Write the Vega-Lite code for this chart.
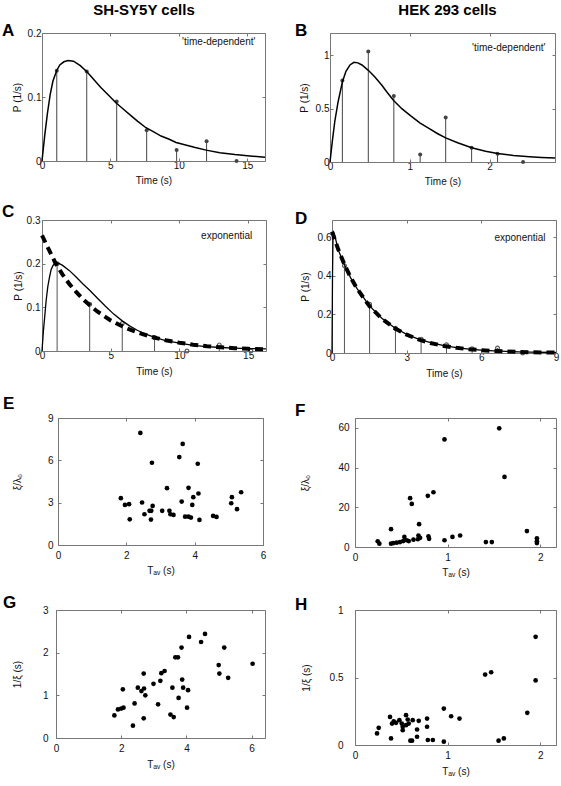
{
  "$schema": "https://vega.github.io/schema/vega-lite/v6.json",
  "padding": {"left": 2, "top": 2, "right": 2, "bottom": 2},
  "columns": 2,
  "align": {"row": "each", "column": "none"},
  "spacing": {"row": 17, "column": 21},
  "concat": [
    {
      "title": {"text": "SH-SY5Y cells", "fontSize": 15, "fontWeight": "bold", "font": "Liberation Sans", "anchor": "middle", "dx": 9, "offset": 4},
      "vconcat": [
        {
          "width": 223, "height": 128,
          "title": {"text": "A", "anchor": "start", "frame": "group", "fontSize": 17, "fontWeight": "bold", "font": "Liberation Sans", "offset": 0, "dx": -40, "dy": 25, "baseline": "alphabetic"},
          "resolve": {"axis": {"x": "independent", "y": "independent"}},
          "layer": [
            {
              "layer": [
                {
                  "data": {"values": [{"t":1.08,"p":0.141},{"t":3.27,"p":0.140},{"t":5.46,"p":0.093},{"t":7.65,"p":0.048},{"t":9.84,"p":0.017},{"t":12.03,"p":0.031},{"t":14.22,"p":0.0}]},
                  "mark": {"type": "rule", "color": "#444", "strokeWidth": 1},
                  "encoding": {
                    "x": {"field": "t", "type": "quantitative", "scale": {"domain": [0, 16.3], "nice": false, "zero": false}, "axis": {"title": "Time (s)", "values": [0,5,10,15], "labelPadding": 2, "titlePadding": 5}},
                    "y": {"field": "p", "type": "quantitative", "scale": {"domain": [0, 0.2], "nice": false}, "axis": {"title": "P (1/s)", "values": [0,0.1,0.2], "format": "~g", "labelPadding": 4, "titlePadding": 5}},
                    "y2": {"datum": 0}
                  }
                },
                {
                  "data": {"values": [{"t":1.08,"p":0.141},{"t":3.27,"p":0.140},{"t":5.46,"p":0.093},{"t":7.65,"p":0.048},{"t":9.84,"p":0.017},{"t":12.03,"p":0.031},{"t":14.22,"p":0.0}]},
                  "mark": {"type": "point", "filled": true, "color": "#444", "size": 16, "opacity": 1},
                  "encoding": {"x": {"field": "t", "type": "quantitative"}, "y": {"field": "p", "type": "quantitative"}}
                },
                {
                  "data": {"values": [{"t":0,"p":0},{"t":0.1,"p":0.02},{"t":0.2,"p":0.04},{"t":0.4,"p":0.075},{"t":0.6,"p":0.104},{"t":0.8,"p":0.125},{"t":1.07,"p":0.141},{"t":1.3,"p":0.15},{"t":1.6,"p":0.155},{"t":1.9,"p":0.157},{"t":2.3,"p":0.156},{"t":2.8,"p":0.149},{"t":3.3,"p":0.139},{"t":3.8,"p":0.127},{"t":4.3,"p":0.115},{"t":4.85,"p":0.103},{"t":5.4,"p":0.091},{"t":6.0,"p":0.08},{"t":6.5,"p":0.071},{"t":7.0,"p":0.062},{"t":7.6,"p":0.052},{"t":8.2,"p":0.045},{"t":8.7,"p":0.039},{"t":9.3,"p":0.034},{"t":9.8,"p":0.029},{"t":10.5,"p":0.025},{"t":11.2,"p":0.021},{"t":12,"p":0.017},{"t":13,"p":0.013},{"t":14.1,"p":0.010},{"t":15.2,"p":0.008},{"t":16.3,"p":0.006}]},
                  "mark": {"type": "line", "color": "#000", "strokeWidth": 1.5},
                  "encoding": {"x": {"field": "t", "type": "quantitative"}, "y": {"field": "p", "type": "quantitative"}}
                },
                {
                  "data": {"values": [{"t": 15.6, "p": 0.186, "label": "'time-dependent'"}]},
                  "mark": {"type": "text", "align": "right", "baseline": "middle", "fontSize": 10, "font": "Liberation Sans", "color": "#111"},
                  "encoding": {"x": {"field": "t", "type": "quantitative"}, "y": {"field": "p", "type": "quantitative"}, "text": {"field": "label"}}
                }
              ]
            },
            {
              "data": {"values": [{"t": 0, "p": 0}]},
              "mark": {"type": "point", "opacity": 0},
              "encoding": {
                "x": {"field": "t", "type": "quantitative", "axis": {"orient": "top", "labels": false, "title": null, "values": [0,5,10,15]}},
                "y": {"field": "p", "type": "quantitative", "axis": {"orient": "right", "labels": false, "title": null, "values": [0,0.1,0.2]}}
              }
            }
          ]
        }
      ]
    },
    {
      "title": {"text": "HEK 293 cells", "fontSize": 15, "fontWeight": "bold", "font": "Liberation Sans", "anchor": "middle", "dx": 21, "offset": 4},
      "vconcat": [
        {
          "width": 225, "height": 129,
          "title": {"text": "B", "anchor": "start", "frame": "group", "fontSize": 17, "fontWeight": "bold", "font": "Liberation Sans", "offset": 0, "dx": -35, "dy": 20, "baseline": "alphabetic"},
          "resolve": {"axis": {"x": "independent", "y": "independent"}},
          "layer": [
            {
              "layer": [
                {
                  "data": {"values": [{"t":0.155,"p":0.765},{"t":0.48,"p":1.037},{"t":0.80,"p":0.62},{"t":1.13,"p":0.071},{"t":1.45,"p":0.418},{"t":1.775,"p":0.133},{"t":2.10,"p":0.077},{"t":2.42,"p":0.0}]},
                  "mark": {"type": "rule", "color": "#444", "strokeWidth": 1},
                  "encoding": {
                    "x": {"field": "t", "type": "quantitative", "scale": {"domain": [0, 2.82], "nice": false, "zero": false}, "axis": {"title": "Time (s)", "values": [0,1,2], "format": "~g", "labelPadding": 2, "titlePadding": 5}},
                    "y": {"field": "p", "type": "quantitative", "scale": {"domain": [0, 1.21], "nice": false}, "axis": {"title": "P (1/s)", "values": [0,0.5,1], "format": "~g", "labelPadding": 4, "titlePadding": 6}},
                    "y2": {"datum": 0}
                  }
                },
                {
                  "data": {"values": [{"t":0.155,"p":0.765},{"t":0.48,"p":1.037},{"t":0.80,"p":0.62},{"t":1.13,"p":0.071},{"t":1.45,"p":0.418},{"t":1.775,"p":0.133},{"t":2.10,"p":0.077},{"t":2.42,"p":0.0}]},
                  "mark": {"type": "point", "filled": true, "color": "#444", "size": 16, "opacity": 1},
                  "encoding": {"x": {"field": "t", "type": "quantitative"}, "y": {"field": "p", "type": "quantitative"}}
                },
                {
                  "data": {"values": [{"t":0,"p":0},{"t":0.03,"p":0.2},{"t":0.06,"p":0.38},{"t":0.1,"p":0.56},{"t":0.155,"p":0.75},{"t":0.2,"p":0.85},{"t":0.25,"p":0.91},{"t":0.3,"p":0.935},{"t":0.35,"p":0.93},{"t":0.4,"p":0.91},{"t":0.48,"p":0.86},{"t":0.56,"p":0.8},{"t":0.65,"p":0.72},{"t":0.72,"p":0.65},{"t":0.8,"p":0.575},{"t":0.9,"p":0.5},{"t":1.0,"p":0.44},{"t":1.13,"p":0.365},{"t":1.25,"p":0.31},{"t":1.35,"p":0.265},{"t":1.45,"p":0.226},{"t":1.6,"p":0.18},{"t":1.775,"p":0.133},{"t":1.95,"p":0.1},{"t":2.1,"p":0.08},{"t":2.3,"p":0.062},{"t":2.5,"p":0.05},{"t":2.65,"p":0.043},{"t":2.82,"p":0.037}]},
                  "mark": {"type": "line", "color": "#000", "strokeWidth": 1.5},
                  "encoding": {"x": {"field": "t", "type": "quantitative"}, "y": {"field": "p", "type": "quantitative"}}
                },
                {
                  "data": {"values": [{"t": 2.70, "p": 1.07, "label": "'time-dependent'"}]},
                  "mark": {"type": "text", "align": "right", "baseline": "middle", "fontSize": 10, "font": "Liberation Sans", "color": "#111"},
                  "encoding": {"x": {"field": "t", "type": "quantitative"}, "y": {"field": "p", "type": "quantitative"}, "text": {"field": "label"}}
                }
              ]
            },
            {
              "data": {"values": [{"t": 0, "p": 0}]},
              "mark": {"type": "point", "opacity": 0},
              "encoding": {
                "x": {"field": "t", "type": "quantitative", "axis": {"orient": "top", "labels": false, "title": null, "values": [0,1,2]}},
                "y": {"field": "p", "type": "quantitative", "axis": {"orient": "right", "labels": false, "title": null, "values": [0,0.5,1]}}
              }
            }
          ]
        }
      ]
    },
    {
      "width": 224, "height": 131,
      "title": {"text": "C", "anchor": "start", "frame": "group", "fontSize": 17, "fontWeight": "bold", "font": "Liberation Sans", "offset": 0, "dx": -40, "dy": 19, "baseline": "alphabetic"},
      "resolve": {"axis": {"x": "independent", "y": "independent"}},
      "layer": [
        {
          "layer": [
            {
              "data": {"values": [{"t":1.1,"p":0.2},{"t":3.47,"p":0.107},{"t":5.84,"p":0.063},{"t":8.19,"p":0.031},{"t":10.55,"p":0.0},{"t":12.9,"p":0.014},{"t":15.2,"p":0.0}]},
              "mark": {"type": "rule", "color": "#555", "strokeWidth": 1},
              "encoding": {
                "x": {"field": "t", "type": "quantitative", "scale": {"domain": [0, 16.3], "nice": false, "zero": false}, "axis": {"title": "Time (s)", "values": [0,5,10,15], "labelPadding": 2, "titlePadding": 6}},
                "y": {"field": "p", "type": "quantitative", "scale": {"domain": [0, 0.3], "nice": false}, "axis": {"title": "P (1/s)", "values": [0,0.1,0.2,0.3], "format": "~g", "labelPadding": 5, "titlePadding": 3}},
                "y2": {"datum": 0}
              }
            },
            {
              "data": {"values": [{"t":1.1,"p":0.2},{"t":3.47,"p":0.107},{"t":5.84,"p":0.063},{"t":8.19,"p":0.031},{"t":10.55,"p":0.0},{"t":12.9,"p":0.014},{"t":15.2,"p":0.0}]},
              "mark": {"type": "point", "filled": false, "color": "#555", "size": 14, "strokeWidth": 1.2, "opacity": 1},
              "encoding": {"x": {"field": "t", "type": "quantitative"}, "y": {"field": "p", "type": "quantitative"}}
            },
            {
              "data": {"values": [{"t":0,"p":0.265},{"t":0.5,"p":0.232},{"t":1,"p":0.2},{"t":1.5,"p":0.175},{"t":2,"p":0.153},{"t":2.5,"p":0.135},{"t":3,"p":0.118},{"t":3.5,"p":0.104},{"t":4,"p":0.091},{"t":5,"p":0.07},{"t":6,"p":0.054},{"t":7,"p":0.042},{"t":8,"p":0.032},{"t":9,"p":0.0245},{"t":10,"p":0.019},{"t":11,"p":0.0144},{"t":12,"p":0.011},{"t":13,"p":0.0085},{"t":14,"p":0.0065},{"t":15,"p":0.005},{"t":16.3,"p":0.0035}]},
              "mark": {"type": "line", "color": "#000", "strokeWidth": 4, "strokeDash": [8, 5], "strokeCap": "butt"},
              "encoding": {"x": {"field": "t", "type": "quantitative"}, "y": {"field": "p", "type": "quantitative"}}
            },
            {
              "data": {"values": [{"t":0,"p":0},{"t":0.1,"p":0.045},{"t":0.2,"p":0.08},{"t":0.3,"p":0.115},{"t":0.42,"p":0.147},{"t":0.55,"p":0.17},{"t":0.66,"p":0.186},{"t":0.8,"p":0.196},{"t":1.0,"p":0.202},{"t":1.2,"p":0.201},{"t":1.5,"p":0.196},{"t":2.0,"p":0.184},{"t":2.5,"p":0.169},{"t":3.0,"p":0.153},{"t":3.47,"p":0.139},{"t":4.0,"p":0.122},{"t":4.6,"p":0.103},{"t":5.2,"p":0.085},{"t":5.84,"p":0.069},{"t":6.4,"p":0.057},{"t":6.9,"p":0.048},{"t":7.5,"p":0.039},{"t":8.2,"p":0.031},{"t":9,"p":0.024},{"t":10,"p":0.018},{"t":11,"p":0.013},{"t":12,"p":0.01},{"t":13,"p":0.008},{"t":14,"p":0.0065},{"t":15,"p":0.0055},{"t":16.3,"p":0.005}]},
              "mark": {"type": "line", "color": "#000", "strokeWidth": 1.3},
              "encoding": {"x": {"field": "t", "type": "quantitative"}, "y": {"field": "p", "type": "quantitative"}}
            },
            {
              "data": {"values": [{"t": 15.3, "p": 0.264, "label": "exponential"}]},
              "mark": {"type": "text", "align": "right", "baseline": "middle", "fontSize": 10, "font": "Liberation Sans", "color": "#111"},
              "encoding": {"x": {"field": "t", "type": "quantitative"}, "y": {"field": "p", "type": "quantitative"}, "text": {"field": "label"}}
            }
          ]
        },
        {
          "data": {"values": [{"t": 0, "p": 0}]},
          "mark": {"type": "point", "opacity": 0},
          "encoding": {
            "x": {"field": "t", "type": "quantitative", "axis": {"orient": "top", "labels": false, "title": null, "values": [0,5,10,15]}},
            "y": {"field": "p", "type": "quantitative", "axis": {"orient": "right", "labels": false, "title": null, "values": [0,0.1,0.2,0.3]}}
          }
        }
      ]
    },
    {
      "width": 224, "height": 133,
      "title": {"text": "D", "anchor": "start", "frame": "group", "fontSize": 17, "fontWeight": "bold", "font": "Liberation Sans", "offset": 0, "dx": -37, "dy": 21, "baseline": "alphabetic"},
      "resolve": {"axis": {"x": "independent", "y": "independent"}},
      "layer": [
        {
          "layer": [
            {
              "data": {"values": [{"t":0.5,"p":0.453},{"t":1.51,"p":0.253},{"t":2.55,"p":0.128},{"t":3.58,"p":0.072},{"t":4.6,"p":0.043},{"t":5.63,"p":0.022},{"t":6.65,"p":0.026},{"t":7.66,"p":0.0}]},
              "mark": {"type": "rule", "color": "#555", "strokeWidth": 1},
              "encoding": {
                "x": {"field": "t", "type": "quantitative", "scale": {"domain": [0, 9], "nice": false, "zero": false}, "axis": {"title": "Time (s)", "values": [0,3,6,9], "labelPadding": 2, "titlePadding": 6}},
                "y": {"field": "p", "type": "quantitative", "scale": {"domain": [0, 0.69], "nice": false}, "axis": {"title": "P (1/s)", "values": [0,0.2,0.4,0.6], "format": "~g", "labelPadding": 4, "titlePadding": 7}},
                "y2": {"datum": 0}
              }
            },
            {
              "data": {"values": [{"t":0.5,"p":0.453},{"t":1.51,"p":0.253},{"t":2.55,"p":0.128},{"t":3.58,"p":0.072},{"t":4.6,"p":0.043},{"t":5.63,"p":0.022},{"t":6.65,"p":0.026},{"t":7.66,"p":0.0}]},
              "mark": {"type": "point", "filled": false, "color": "#555", "size": 14, "strokeWidth": 1.2, "opacity": 1},
              "encoding": {"x": {"field": "t", "type": "quantitative"}, "y": {"field": "p", "type": "quantitative"}}
            },
            {
              "data": {"values": [{"t":0,"p":0.63},{"t":0.25,"p":0.538},{"t":0.5,"p":0.459},{"t":0.75,"p":0.392},{"t":1,"p":0.335},{"t":1.5,"p":0.244},{"t":2,"p":0.178},{"t":2.5,"p":0.13},{"t":3,"p":0.095},{"t":3.5,"p":0.069},{"t":4,"p":0.0504},{"t":4.5,"p":0.0367},{"t":5,"p":0.0268},{"t":5.5,"p":0.0196},{"t":6,"p":0.0143},{"t":6.5,"p":0.0104},{"t":7,"p":0.0076},{"t":7.5,"p":0.0055},{"t":8,"p":0.004},{"t":8.5,"p":0.0029},{"t":9,"p":0.0021}]},
              "mark": {"type": "line", "color": "#000", "strokeWidth": 4, "strokeDash": [8, 5], "strokeCap": "butt"},
              "encoding": {"x": {"field": "t", "type": "quantitative"}, "y": {"field": "p", "type": "quantitative"}}
            },
            {
              "data": {"values": [{"t":0,"p":0},{"t":0.02,"p":0.4},{"t":0.04,"p":0.6},{"t":0.07,"p":0.625},{"t":0.1,"p":0.615},{"t":0.25,"p":0.535},{"t":0.5,"p":0.458},{"t":0.75,"p":0.39},{"t":1,"p":0.335},{"t":1.5,"p":0.246},{"t":2,"p":0.18},{"t":2.5,"p":0.132},{"t":3,"p":0.097},{"t":3.5,"p":0.071},{"t":4,"p":0.052},{"t":4.5,"p":0.038},{"t":5,"p":0.028},{"t":5.5,"p":0.02},{"t":6,"p":0.015},{"t":6.5,"p":0.011},{"t":7,"p":0.008},{"t":7.5,"p":0.006},{"t":8,"p":0.0045},{"t":9,"p":0.0025}]},
              "mark": {"type": "line", "color": "#000", "strokeWidth": 1.3},
              "encoding": {"x": {"field": "t", "type": "quantitative"}, "y": {"field": "p", "type": "quantitative"}}
            },
            {
              "data": {"values": [{"t": 8.58, "p": 0.595, "label": "exponential"}]},
              "mark": {"type": "text", "align": "right", "baseline": "middle", "fontSize": 10, "font": "Liberation Sans", "color": "#111"},
              "encoding": {"x": {"field": "t", "type": "quantitative"}, "y": {"field": "p", "type": "quantitative"}, "text": {"field": "label"}}
            }
          ]
        },
        {
          "data": {"values": [{"t": 0, "p": 0}]},
          "mark": {"type": "point", "opacity": 0},
          "encoding": {
            "x": {"field": "t", "type": "quantitative", "axis": {"orient": "top", "labels": false, "title": null, "values": [0,3,6,9]}},
            "y": {"field": "p", "type": "quantitative", "axis": {"orient": "right", "labels": false, "title": null, "values": [0,0.2,0.4,0.6]}}
          }
        }
      ]
    },
    {
      "width": 221, "height": 127,
      "title": {"text": "E", "anchor": "start", "frame": "group", "fontSize": 17, "fontWeight": "bold", "font": "Liberation Sans", "offset": 0, "dx": -39, "dy": 13, "baseline": "alphabetic"},
      "resolve": {"axis": {"x": "independent", "y": "independent"}},
      "layer": [
        {
          "data": {"values": [{"t":1.84,"v":3.32},{"t":1.96,"v":2.84},{"t":2.08,"v":2.89},{"t":2.10,"v":1.82},{"t":2.41,"v":7.94},{"t":2.46,"v":3.01},{"t":2.53,"v":2.18},{"t":2.68,"v":2.42},{"t":2.73,"v":2.42},{"t":2.72,"v":1.80},{"t":2.75,"v":5.83},{"t":2.77,"v":2.77},{"t":3.05,"v":2.42},{"t":3.19,"v":4.03},{"t":3.26,"v":2.42},{"t":3.29,"v":2.18},{"t":3.38,"v":2.13},{"t":3.55,"v":6.23},{"t":3.62,"v":3.08},{"t":3.65,"v":7.16},{"t":3.72,"v":2.01},{"t":3.82,"v":2.01},{"t":3.82,"v":4.05},{"t":3.89,"v":1.94},{"t":3.93,"v":2.84},{"t":3.96,"v":3.39},{"t":4.09,"v":5.76},{"t":4.11,"v":3.65},{"t":4.14,"v":1.78},{"t":4.54,"v":2.06},{"t":4.64,"v":1.99},{"t":5.07,"v":2.96},{"t":5.09,"v":3.39},{"t":5.24,"v":2.54},{"t":5.36,"v":3.74}]},
          "mark": {"type": "point", "filled": true, "color": "#000", "size": 22, "opacity": 1},
          "encoding": {
            "x": {"field": "t", "type": "quantitative", "scale": {"domain": [0, 6], "nice": false, "range": [16, 221]}, "axis": {"title": "Tₐᵥ (s)", "values": [0,2,4,6], "labelPadding": 8, "titlePadding": 5}},
            "y": {"field": "v", "type": "quantitative", "scale": {"domain": [0, 9], "nice": false}, "axis": {"title": "ξ/λ₀", "values": [0,3,6,9], "labelPadding": 8, "titlePadding": 25, "offset": -16}}
          }
        },
        {
          "data": {"values": [{"t": 0, "v": 0}]},
          "mark": {"type": "point", "opacity": 0},
          "encoding": {
            "x": {"field": "t", "type": "quantitative", "axis": {"orient": "top", "labels": false, "title": null, "values": [0,2,4,6]}},
            "y": {"field": "v", "type": "quantitative", "axis": {"orient": "right", "labels": false, "title": null, "values": [0,3,6,9]}}
          }
        }
      ]
    },
    {
      "width": 201, "height": 129,
      "title": {"text": "F", "anchor": "start", "frame": "group", "fontSize": 17, "fontWeight": "bold", "font": "Liberation Sans", "offset": 0, "dx": -60, "dy": 15, "baseline": "alphabetic"},
      "resolve": {"axis": {"x": "independent", "y": "independent"}},
      "layer": [
        {
          "data": {"values": [{"t":0.245,"v":2.9},{"t":0.263,"v":1.7},{"t":0.389,"v":9.0},{"t":0.389,"v":1.7},{"t":0.414,"v":2.0},{"t":0.45,"v":2.2},{"t":0.486,"v":2.5},{"t":0.52,"v":3.0},{"t":0.533,"v":5.1},{"t":0.558,"v":3.4},{"t":0.595,"v":24.6},{"t":0.613,"v":21.7},{"t":0.631,"v":3.7},{"t":0.58,"v":3.0},{"t":0.678,"v":3.9},{"t":0.685,"v":5.8},{"t":0.692,"v":11.5},{"t":0.703,"v":4.6},{"t":0.786,"v":25.8},{"t":0.793,"v":5.4},{"t":0.8,"v":4.1},{"t":0.847,"v":27.6},{"t":0.966,"v":54.2},{"t":0.966,"v":3.4},{"t":1.052,"v":5.1},{"t":1.135,"v":5.8},{"t":1.413,"v":2.5},{"t":1.477,"v":2.5},{"t":1.557,"v":59.8},{"t":1.614,"v":35.3},{"t":1.856,"v":8.0},{"t":1.964,"v":4.4},{"t":1.964,"v":2.9},{"t":1.964,"v":2.0}]},
          "mark": {"type": "point", "filled": true, "color": "#000", "size": 22, "opacity": 1},
          "encoding": {
            "x": {"field": "t", "type": "quantitative", "scale": {"domain": [0, 2.17], "nice": false}, "axis": {"title": "Tₐᵥ (s)", "values": [0,1,2], "labelPadding": 8, "titlePadding": 5}},
            "y": {"field": "v", "type": "quantitative", "scale": {"domain": [0, 65], "nice": false}, "axis": {"title": "ξ/λ₀", "values": [0,20,40,60], "labelPadding": 9, "titlePadding": 27}}
          }
        },
        {
          "data": {"values": [{"t": 0, "v": 0}]},
          "mark": {"type": "point", "opacity": 0},
          "encoding": {
            "x": {"field": "t", "type": "quantitative", "axis": {"orient": "top", "labels": false, "title": null, "values": [0,1,2]}},
            "y": {"field": "v", "type": "quantitative", "axis": {"orient": "right", "labels": false, "title": null, "values": [0,20,40,60]}}
          }
        }
      ]
    },
    {
      "width": 223, "height": 128,
      "title": {"text": "G", "anchor": "start", "frame": "group", "fontSize": 17, "fontWeight": "bold", "font": "Liberation Sans", "offset": 0, "dx": -39, "dy": 20, "baseline": "alphabetic"},
      "resolve": {"axis": {"x": "independent", "y": "independent"}},
      "layer": [
        {
          "data": {"values": [{"t":1.79,"v":0.53},{"t":1.90,"v":0.67},{"t":2.0,"v":0.69},{"t":2.07,"v":0.71},{"t":2.05,"v":1.14},{"t":2.36,"v":0.29},{"t":2.41,"v":0.81},{"t":2.51,"v":1.18},{"t":2.62,"v":1.10},{"t":2.69,"v":1.51},{"t":2.70,"v":1.16},{"t":2.69,"v":0.46},{"t":2.74,"v":1.0},{"t":2.99,"v":1.27},{"t":3.13,"v":0.79},{"t":3.2,"v":1.34},{"t":3.23,"v":1.52},{"t":3.33,"v":1.57},{"t":3.51,"v":0.55},{"t":3.57,"v":1.18},{"t":3.61,"v":0.49},{"t":3.66,"v":1.89},{"t":3.74,"v":1.89},{"t":3.76,"v":0.94},{"t":3.85,"v":2.12},{"t":3.87,"v":1.37},{"t":3.9,"v":1.18},{"t":4.02,"v":0.71},{"t":4.05,"v":1.12},{"t":4.08,"v":2.37},{"t":4.45,"v":2.25},{"t":4.57,"v":2.44},{"t":4.99,"v":1.71},{"t":5.01,"v":1.51},{"t":5.16,"v":2.12},{"t":5.28,"v":1.41},{"t":6.03,"v":1.74}]},
          "mark": {"type": "point", "filled": true, "color": "#000", "size": 22, "opacity": 1},
          "encoding": {
            "x": {"field": "t", "type": "quantitative", "scale": {"domain": [0, 6.41], "nice": false, "range": [14, 223]}, "axis": {"title": "Tₐᵥ (s)", "values": [0,2,4,6], "labelPadding": 8, "titlePadding": 6}},
            "y": {"field": "v", "type": "quantitative", "scale": {"domain": [0, 3], "nice": false}, "axis": {"title": "1/ξ (s)", "values": [0,1,2,3], "labelPadding": 11, "titlePadding": 20, "offset": -14}}
          }
        },
        {
          "data": {"values": [{"t": 0, "v": 0}]},
          "mark": {"type": "point", "opacity": 0},
          "encoding": {
            "x": {"field": "t", "type": "quantitative", "axis": {"orient": "top", "labels": false, "title": null, "values": [0,2,4,6]}},
            "y": {"field": "v", "type": "quantitative", "axis": {"orient": "right", "labels": false, "title": null, "values": [0,1,2,3]}}
          }
        }
      ]
    },
    {
      "width": 201, "height": 135,
      "title": {"text": "H", "anchor": "start", "frame": "group", "fontSize": 17, "fontWeight": "bold", "font": "Liberation Sans", "offset": 0, "dx": -60, "dy": 22, "baseline": "alphabetic"},
      "resolve": {"axis": {"x": "independent", "y": "independent"}},
      "layer": [
        {
          "data": {"values": [{"t":0.238,"v":0.086},{"t":0.256,"v":0.127},{"t":0.378,"v":0.208},{"t":0.389,"v":0.049},{"t":0.4,"v":0.159},{"t":0.418,"v":0.176},{"t":0.443,"v":0.164},{"t":0.479,"v":0.184},{"t":0.505,"v":0.159},{"t":0.515,"v":0.135},{"t":0.515,"v":0.11},{"t":0.551,"v":0.221},{"t":0.551,"v":0.147},{"t":0.569,"v":0.189},{"t":0.58,"v":0.159},{"t":0.598,"v":0.032},{"t":0.616,"v":0.032},{"t":0.623,"v":0.184},{"t":0.67,"v":0.115},{"t":0.67,"v":0.061},{"t":0.688,"v":0.179},{"t":0.778,"v":0.196},{"t":0.778,"v":0.135},{"t":0.786,"v":0.037},{"t":0.84,"v":0.037},{"t":0.959,"v":0.27},{"t":0.959,"v":0.025},{"t":1.038,"v":0.213},{"t":1.128,"v":0.196},{"t":1.405,"v":0.522},{"t":1.47,"v":0.539},{"t":1.55,"v":0.032},{"t":1.607,"v":0.049},{"t":1.86,"v":0.238},{"t":1.95,"v":0.801},{"t":1.95,"v":0.478}]},
          "mark": {"type": "point", "filled": true, "color": "#000", "size": 22, "opacity": 1},
          "encoding": {
            "x": {"field": "t", "type": "quantitative", "scale": {"domain": [0, 2.17], "nice": false}, "axis": {"title": "Tₐᵥ (s)", "values": [0,1,2], "labelPadding": 8, "titlePadding": 6}},
            "y": {"field": "v", "type": "quantitative", "scale": {"domain": [0, 1], "nice": false}, "axis": {"title": "1/ξ (s)", "values": [0,0.5,1], "format": "~g", "labelPadding": 15, "titlePadding": 18}}
          }
        },
        {
          "data": {"values": [{"t": 0, "v": 0}]},
          "mark": {"type": "point", "opacity": 0},
          "encoding": {
            "x": {"field": "t", "type": "quantitative", "axis": {"orient": "top", "labels": false, "title": null, "values": [0,1,2]}},
            "y": {"field": "v", "type": "quantitative", "axis": {"orient": "right", "labels": false, "title": null, "values": [0,0.5,1]}}
          }
        }
      ]
    }
  ],
  "config": {
    "font": "Liberation Sans",
    "view": {"stroke": null},
    "axis": {"domainColor": "#777", "tickColor": "#777", "tickSize": -3, "labelFontSize": 10, "titleFontSize": 10, "titleFontWeight": "normal", "labelColor": "#111", "titleColor": "#111", "grid": false, "labelFont": "Liberation Sans", "titleFont": "Liberation Sans", "labelFlush": false, "labelOverlap": false}
  }
}
